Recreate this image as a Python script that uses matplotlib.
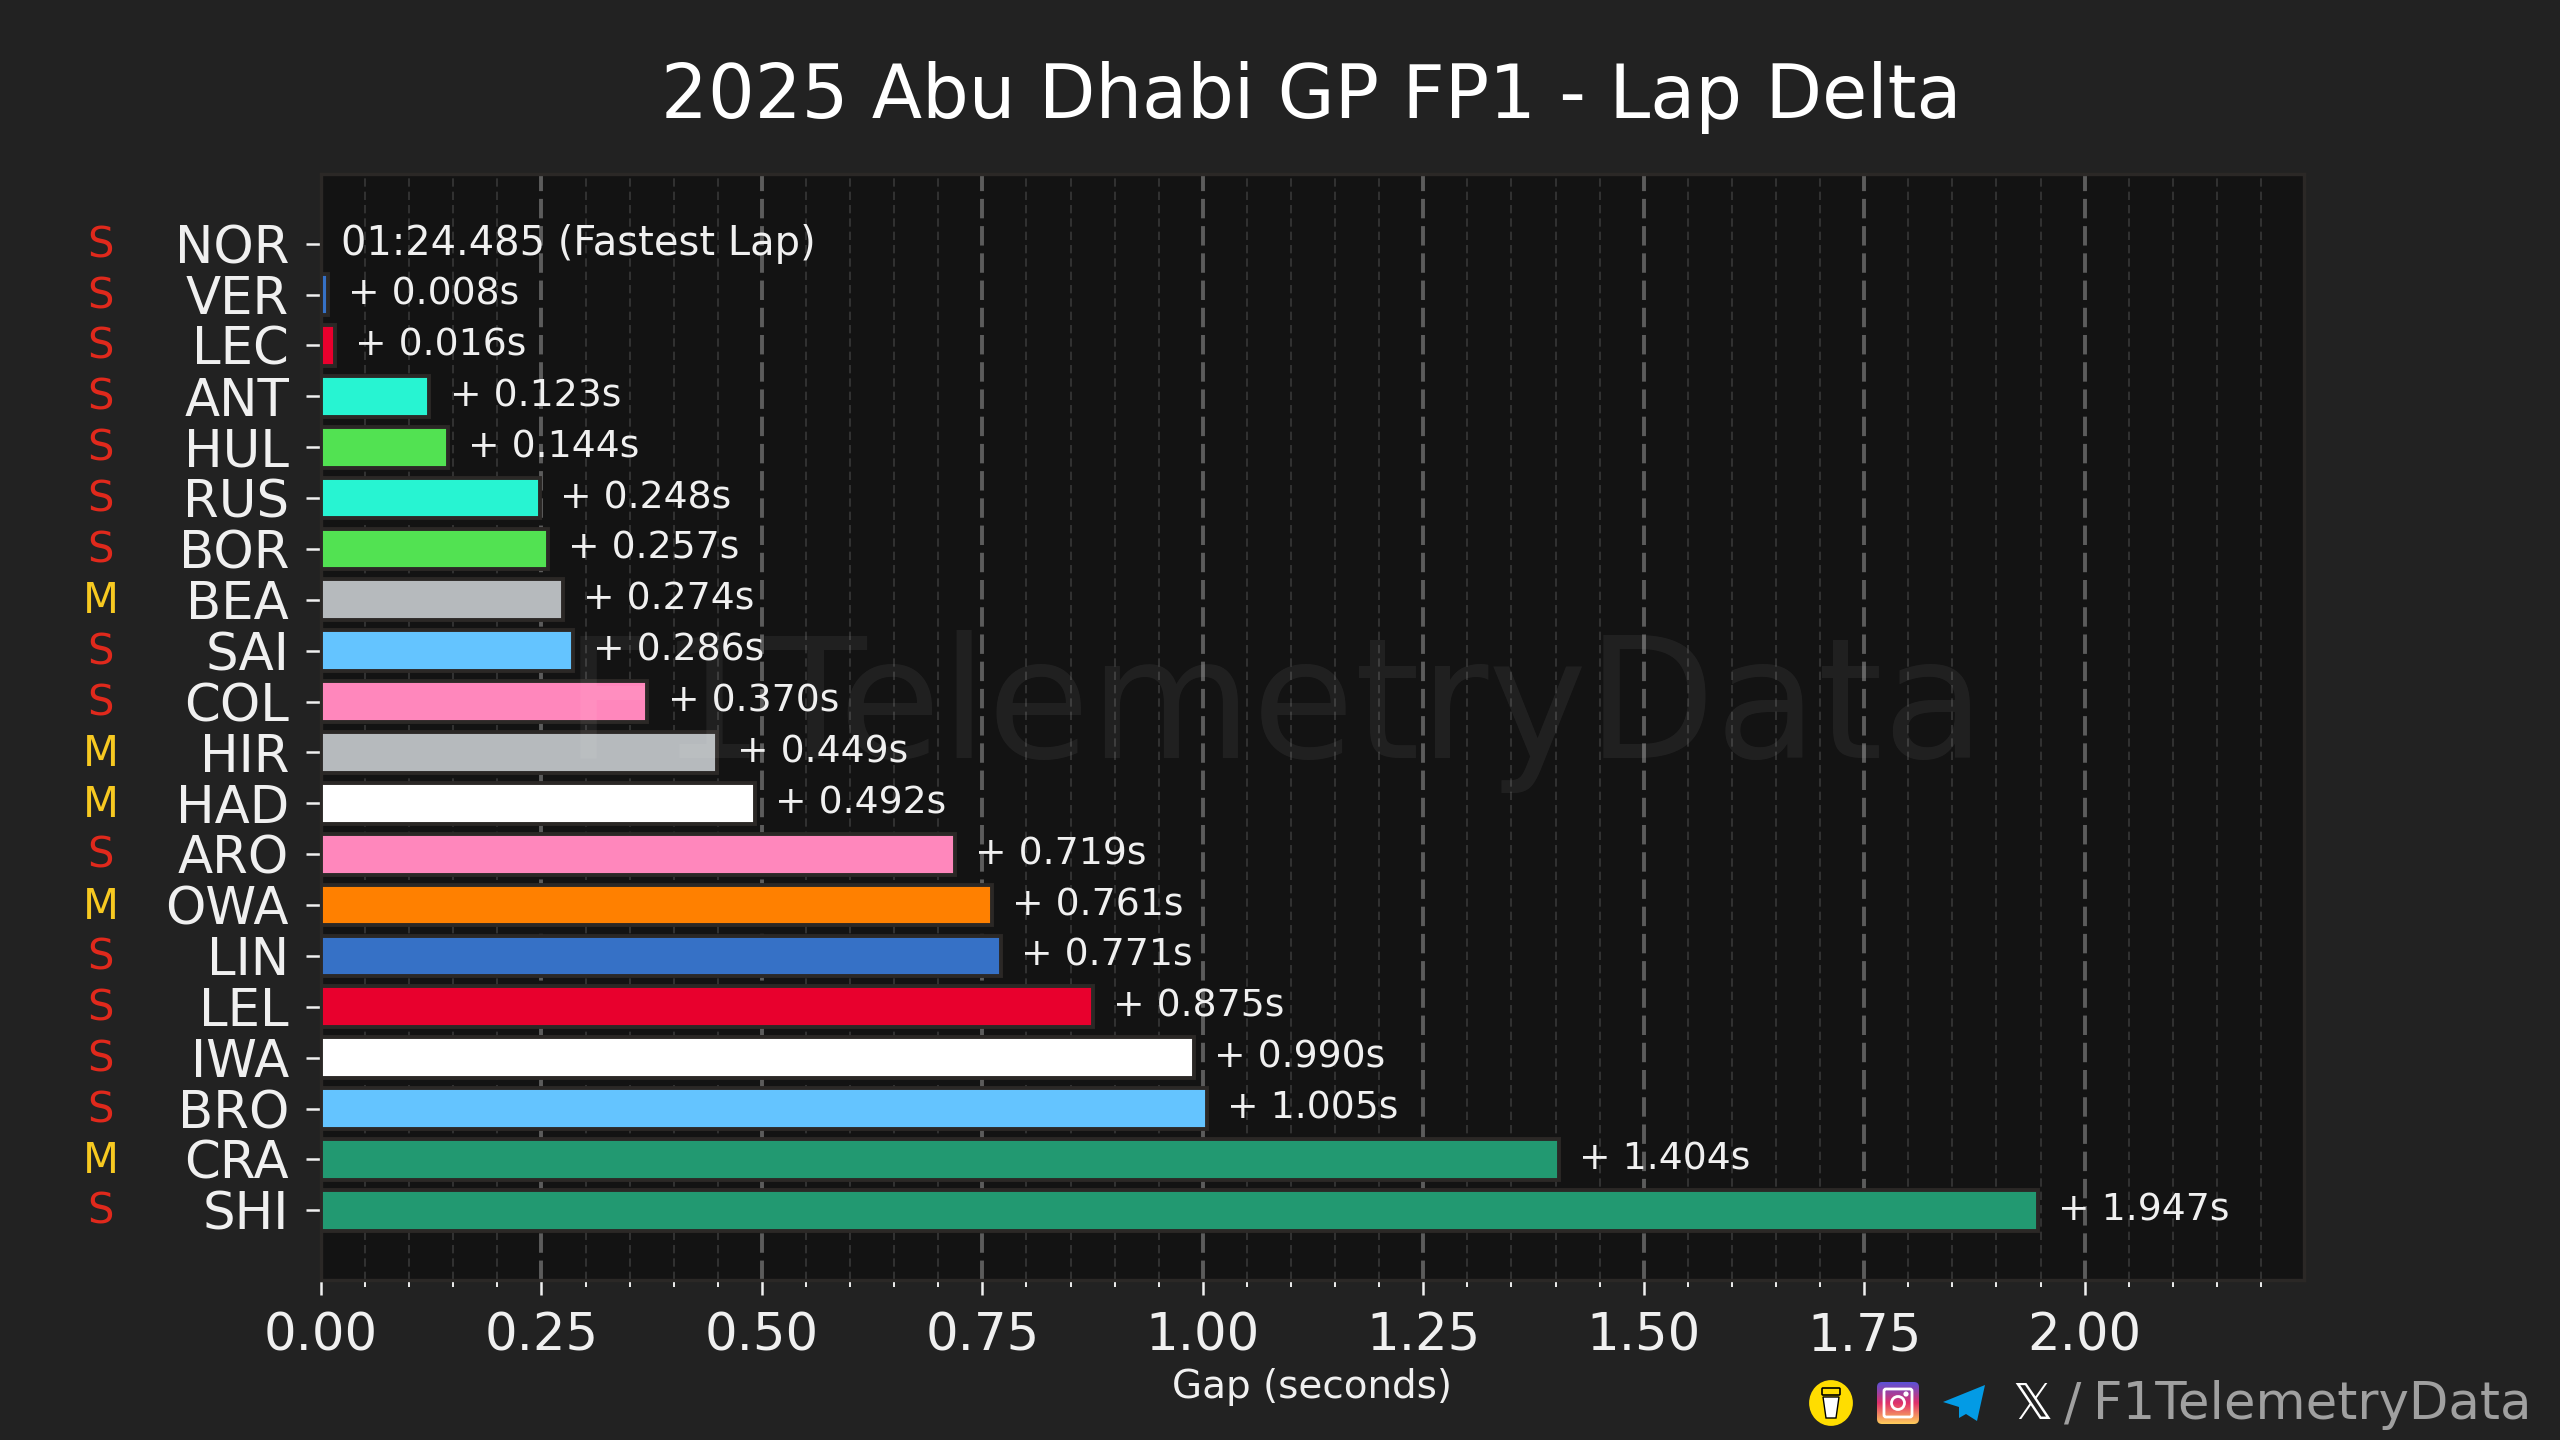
import numpy as np
import matplotlib
matplotlib.use('Agg')
import matplotlib.pyplot as plt
from matplotlib.patches import Ellipse, FancyBboxPatch, Polygon, Circle
from matplotlib.ticker import MultipleLocator, FormatStrFormatter

# data
drivers = ['NOR', 'VER', 'LEC', 'ANT', 'HUL', 'RUS', 'BOR', 'BEA', 'SAI', 'COL',
           'HIR', 'HAD', 'ARO', 'OWA', 'LIN', 'LEL', 'IWA', 'BRO', 'CRA', 'SHI']
gaps = [0.0, 0.008, 0.016, 0.123, 0.144, 0.248, 0.257, 0.274, 0.286, 0.370,
        0.449, 0.492, 0.719, 0.761, 0.771, 0.875, 0.990, 1.005, 1.404, 1.947]
compounds = ['S', 'S', 'S', 'S', 'S', 'S', 'S', 'M', 'S', 'S',
             'M', 'M', 'S', 'M', 'S', 'S', 'S', 'S', 'M', 'S']
bar_colors = ['#ff8000', '#3671c6', '#e8002d', '#27f4d2', '#52e252', '#27f4d2', '#52e252',
              '#b6babd', '#64c4ff', '#ff87bc', '#b6babd', '#ffffff', '#ff87bc', '#ff8000',
              '#3671c6', '#e8002d', '#ffffff', '#64c4ff', '#229971', '#229971']
fastest_lap = '01:24.485 (Fastest Lap)'
compound_colors = {'S': '#e0291c', 'M': '#f7c921'}

BG = '#222222'
AX_BG = '#131313'
EDGE = '#2b2826'
TEXT = '#f0f0f0'

plt.rcParams['font.family'] = 'DejaVu Sans'

fig = plt.figure(figsize=(12.8, 7.2), dpi=200, facecolor=BG)
ax = fig.add_axes([321 / 2560, 1 - 1280 / 1440, (2304 - 321) / 2560, (1280 - 174) / 1440])
ax.set_facecolor(AX_BG)

y = np.arange(len(drivers))
ax.barh(y, gaps, height=0.8, color=bar_colors, edgecolor=EDGE, linewidth=1.4, zorder=3)

ax.set_xlim(0, 2.2488)
ax.set_ylim(len(drivers) - 1 + 1.37, -1.37)
ax.xaxis.set_major_locator(MultipleLocator(0.25))
ax.xaxis.set_minor_locator(MultipleLocator(0.05))
ax.xaxis.set_major_formatter(FormatStrFormatter('%.2f'))
ax.grid(axis='x', which='major', color='#5c5c5c', linestyle=(0, (5, 2)), linewidth=1.4, zorder=1)
ax.grid(axis='x', which='minor', color='#383838', linestyle=(0, (5, 3)), linewidth=0.6, zorder=1)

ax.set_yticks(y)
ax.set_yticklabels(drivers)
ax.tick_params(axis='y', colors=TEXT, labelsize=18.5, length=5.5, width=0.9, pad=6)
ax.tick_params(axis='x', which='major', colors=TEXT, labelsize=18.5, length=5.5, width=0.9, pad=6)
ax.tick_params(axis='x', which='minor', colors=TEXT, length=2.5, width=0.7)
for side in ax.spines.values():
    side.set_color(EDGE)
    side.set_linewidth(1.2)

ax.set_xlabel('Gap (seconds)', color=TEXT, fontsize=14, labelpad=2)

for i, (gap, comp) in enumerate(zip(gaps, compounds)):
    label = fastest_lap if i == 0 else f'+ {gap:.3f}s'
    size = 14.4 if i == 0 else 13.6
    ax.text(gap + 0.023, i, label, color=TEXT, fontsize=size, va='center', ha='left', zorder=5)
    ax.text(-0.111, i + 0.03, comp, color=compound_colors[comp], fontsize=15, ha='center', va='center',
            transform=ax.get_yaxis_transform())

fig.text(1311 / 2560, 1 - 97 / 1440, '2025 Abu Dhabi GP FP1 - Lap Delta', color='white',
         fontsize=26.5, ha='center', va='center')

# overlay in pixels for the watermark and the social icons
ov = fig.add_axes([0, 0, 1, 1], zorder=10)
ov.axis('off')
ov.patch.set_alpha(0)

ov.text(1275, 758, 'F1TelemetryData', color='white', alpha=0.06, fontsize=60, ha='center', va='baseline')

# buy me a coffee
ov.add_patch(Ellipse((1831, 1403), 41, 43, color='#ffdd00'))
ov.add_patch(Polygon([[1823, 1397], [1839, 1397], [1836, 1418], [1826, 1418]], facecolor='white',
                     edgecolor='black', linewidth=0.5))
ov.add_patch(FancyBboxPatch((1823, 1389), 16, 5, boxstyle='round,pad=1', facecolor='none',
                            edgecolor='black', linewidth=0.6))

# instagram
grad = np.linspace(0, 1, 64)[:, None]
start = np.array([0.36, 0.32, 0.84])
mid = np.array([0.88, 0.19, 0.42])
end = np.array([1.0, 0.80, 0.36])
rgb = np.where(grad[..., None] < 0.5, start + (mid - start) * grad[..., None] * 2,
               mid + (end - mid) * (grad[..., None] - 0.5) * 2)
img = ov.imshow(rgb, extent=(1877, 1919, 1424, 1382), aspect='auto', zorder=2)
clip = FancyBboxPatch((1882, 1387), 32, 32, boxstyle='round,pad=5', transform=ov.transData,
                      facecolor='none', edgecolor='none')
ov.add_patch(clip)
img.set_clip_path(clip)
ov.add_patch(FancyBboxPatch((1886, 1391), 24, 24, boxstyle='round,pad=2', facecolor='none',
                            edgecolor='white', linewidth=1.0, zorder=3))
ov.add_patch(Circle((1898, 1403), 6.5, facecolor='none', edgecolor='white', linewidth=1.0, zorder=3))
ov.add_patch(Circle((1906, 1394), 1.2, color='white', zorder=3))

# telegram
ov.add_patch(Polygon([[1985, 1385], [1943, 1402], [1959, 1407], [1959, 1418], [1966, 1414], [1977, 1421]],
                     color='#039be5', linewidth=0))

ov.text(2032, 1419, '\U0001D54F', color='white', fontsize=18, ha='center', va='baseline')
ov.text(2531, 1419, 'F1TelemetryData', color='#a0a0a0', fontsize=18.5, ha='right', va='baseline')
ov.text(2073, 1419, '/', color='#a0a0a0', fontsize=18.5, ha='center', va='baseline')

ov.set_xlim(0, 2560)
ov.set_ylim(1440, 0)

fig.savefig('out.png', dpi=200, facecolor=BG)
